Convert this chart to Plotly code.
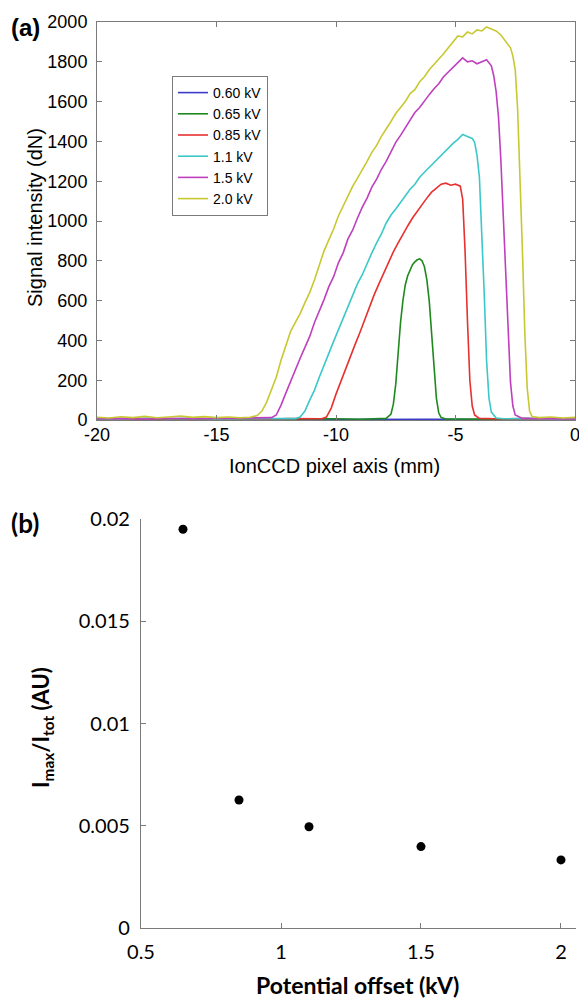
import plotly.graph_objects as go

# ---------------- Panel (a) data: signal vs IonCCD pixel axis ----------------
series_names = ["0.60 kV", "0.65 kV", "0.85 kV", "1.1 kV", "1.5 kV", "2.0 kV"]
series_colors = ["#3c3cc8", "#1e8a1e", "#e6312f", "#3cc8c8", "#bf3fbf", "#c8c832"]

curve_060 = [(-20, 2), (-18, 3), (-16, 2), (-14, 3), (-12, 2), (-10, 3), (-8, 2),
             (-6, 3), (-4, 2), (-2, 3), (0, 2)]

curve_065 = [(-20, 4), (-18, 6), (-16, 3), (-14, 5), (-12, 4), (-10, 6), (-9, 4), (-8.2, 5),
             (-7.9, 8), (-7.7, 30), (-7.6, 80), (-7.5, 180), (-7.4, 340), (-7.3, 490),
             (-7.2, 600), (-7.1, 680), (-7.0, 725), (-6.9, 755), (-6.8, 780), (-6.7, 795),
             (-6.6, 805), (-6.5, 810), (-6.4, 800), (-6.3, 770), (-6.2, 705), (-6.1, 600),
             (-6.0, 450), (-5.9, 260), (-5.8, 110), (-5.7, 35), (-5.6, 12), (-5.4, 5),
             (-4, 4), (-2, 6), (0, 4)]

curve_085 = [(-20, 6), (-19, 4), (-18, 7), (-17, 5), (-16, 8), (-15, 5), (-14, 6), (-13, 4),
             (-12, 7), (-11, 5), (-10.6, 6), (-10.4, 15), (-10.2, 60), (-10.0, 130),
             (-9.8, 195), (-9.6, 255), (-9.4, 320), (-9.2, 380), (-9.0, 440), (-8.8, 505),
             (-8.6, 570), (-8.4, 630), (-8.2, 685), (-8.0, 740), (-7.8, 795), (-7.6, 845),
             (-7.4, 890), (-7.2, 935), (-7.0, 975), (-6.8, 1015), (-6.6, 1050), (-6.4, 1085),
             (-6.2, 1115), (-6.0, 1145), (-5.8, 1165), (-5.6, 1185), (-5.4, 1190), (-5.2, 1180),
             (-5.0, 1185), (-4.8, 1175), (-4.7, 1110), (-4.6, 850), (-4.5, 500), (-4.4, 200),
             (-4.3, 70), (-4.2, 25), (-4.0, 8), (-3, 5), (-2, 7), (-1, 4), (0, 6)]

curve_110 = [(-20, 7), (-19, 5), (-18, 9), (-17, 6), (-16, 8), (-15, 5), (-14, 7), (-13, 6),
             (-12, 8), (-11.7, 7), (-11.5, 15), (-11.3, 45), (-11.1, 100), (-10.9, 150),
             (-10.7, 215), (-10.5, 280), (-10.3, 335), (-10.1, 395), (-9.9, 455), (-9.7, 510),
             (-9.5, 570), (-9.3, 625), (-9.1, 685), (-8.9, 730), (-8.7, 790), (-8.5, 840),
             (-8.3, 890), (-8.1, 935), (-7.9, 990), (-7.7, 1030), (-7.5, 1060), (-7.3, 1095),
             (-7.1, 1130), (-6.9, 1160), (-6.7, 1185), (-6.5, 1220), (-6.3, 1245), (-6.1, 1270),
             (-5.9, 1290), (-5.7, 1320), (-5.5, 1340), (-5.3, 1370), (-5.1, 1390), (-4.9, 1410),
             (-4.7, 1435), (-4.5, 1425), (-4.3, 1415), (-4.2, 1395), (-4.1, 1330), (-4.0, 1220),
             (-3.9, 950), (-3.8, 640), (-3.7, 300), (-3.6, 110), (-3.5, 40), (-3.3, 10),
             (-3, 6), (-2, 8), (-1, 5), (0, 7)]

curve_150 = [(-20, 6), (-19, 8), (-18, 5), (-17, 9), (-16, 6), (-15, 8), (-14, 7), (-13, 9),
             (-12.7, 12), (-12.5, 25), (-12.3, 75), (-12.1, 135), (-11.9, 195), (-11.7, 260),
             (-11.5, 310), (-11.3, 365), (-11.1, 420), (-10.9, 490), (-10.7, 545), (-10.5, 605),
             (-10.3, 670), (-10.1, 720), (-9.9, 790), (-9.7, 840), (-9.5, 910), (-9.3, 955),
             (-9.1, 1015), (-8.9, 1070), (-8.7, 1115), (-8.5, 1170), (-8.3, 1210), (-8.1, 1260),
             (-7.9, 1300), (-7.7, 1350), (-7.5, 1395), (-7.3, 1430), (-7.1, 1470), (-6.9, 1505),
             (-6.7, 1545), (-6.5, 1570), (-6.3, 1605), (-6.1, 1635), (-5.9, 1665), (-5.7, 1690),
             (-5.5, 1725), (-5.3, 1750), (-5.1, 1775), (-4.9, 1800), (-4.7, 1820), (-4.5, 1800),
             (-4.3, 1805), (-4.1, 1790), (-3.9, 1800), (-3.7, 1810), (-3.5, 1780), (-3.4, 1730),
             (-3.3, 1650), (-3.2, 1520), (-3.1, 1300), (-3.0, 1000), (-2.9, 700), (-2.8, 420),
             (-2.7, 190), (-2.6, 70), (-2.5, 25), (-2.2, 8), (-1.5, 6), (-1, 7), (0, 5)]

curve_200 = [(-20, 14), (-19.5, 10), (-19, 16), (-18.5, 12), (-18, 18), (-17.5, 11), (-17, 15),
             (-16.5, 20), (-16, 13), (-15.5, 17), (-15, 12), (-14.5, 15), (-14, 11), (-13.6, 14),
             (-13.3, 22), (-13.1, 45), (-12.9, 90), (-12.7, 150), (-12.5, 215), (-12.3, 300),
             (-12.1, 370), (-11.9, 445), (-11.7, 490), (-11.5, 535), (-11.3, 590), (-11.1, 640),
             (-10.9, 705), (-10.7, 775), (-10.5, 850), (-10.3, 905), (-10.1, 960), (-9.9, 1025),
             (-9.7, 1075), (-9.5, 1120), (-9.3, 1175), (-9.1, 1215), (-8.9, 1255), (-8.7, 1300),
             (-8.5, 1345), (-8.3, 1380), (-8.1, 1425), (-7.9, 1460), (-7.7, 1500), (-7.5, 1540),
             (-7.3, 1570), (-7.1, 1600), (-6.9, 1640), (-6.7, 1660), (-6.5, 1700), (-6.3, 1725),
             (-6.1, 1760), (-5.9, 1785), (-5.7, 1810), (-5.5, 1840), (-5.3, 1870), (-5.1, 1900),
             (-4.9, 1930), (-4.7, 1925), (-4.5, 1950), (-4.3, 1940), (-4.1, 1960), (-3.9, 1955),
             (-3.7, 1975), (-3.5, 1965), (-3.3, 1955), (-3.1, 1935), (-2.9, 1905), (-2.7, 1870),
             (-2.6, 1830), (-2.5, 1760), (-2.4, 1560), (-2.3, 1250), (-2.2, 850), (-2.1, 440),
             (-2.0, 160), (-1.9, 45), (-1.8, 18), (-1.5, 12), (-1.0, 15), (-0.5, 10), (0, 13)]

curves = [curve_060, curve_065, curve_085, curve_110, curve_150, curve_200]

x_ticks_a = [-20, -15, -10, -5, 0]
x_ticklabels_a = ["-20", "-15", "-10", "-5", "0"]

# ---------------- Panel (b) data: Imax/Itot vs potential offset ----------------
offset_kv = [0.65, 0.85, 1.1, 1.5, 2.0]
imax_itot = [0.0195, 0.00626, 0.00495, 0.00398, 0.00333]
x_ticks_b = [0.5, 1, 1.5, 2]
y_ticks_b = [0, 0.005, 0.01, 0.015, 0.02]
y_ticklabels_b = ["0", "0.005", "0.01", "0.015", "0.02"]

W, H = 579, 1000
fig = go.Figure()

for name, color, pts in zip(series_names, series_colors, curves):
    fig.add_trace(go.Scatter(
        x=[p[0] for p in pts], y=[p[1] for p in pts], mode="lines", name=name,
        line=dict(color=color, width=1.6), xaxis="x", yaxis="y"))

fig.add_trace(go.Scatter(
    x=offset_kv, y=imax_itot, mode="markers", showlegend=False,
    marker=dict(color="black", size=9), xaxis="x2", yaxis="y2", cliponaxis=False))

axis_gray = "#7a7a7a"
arial = "Arial, Liberation Sans, sans-serif"
calib = "Lato, Open Sans, sans-serif"

common = dict(ticks="inside", ticklen=5, tickcolor=axis_gray, showline=True,
              linecolor=axis_gray, showgrid=False, zeroline=False,
              automargin=False, ticklabeloverflow="allow")

fig.update_layout(
    template="none",
    width=W, height=H, margin=dict(l=0, r=0, t=0, b=0, pad=0, autoexpand=False),
    paper_bgcolor="white", plot_bgcolor="white",
    showlegend=True,
    legend=dict(x=172 / W, y=1 - 76 / H, xanchor="left", yanchor="top",
                bordercolor=axis_gray, borderwidth=1, bgcolor="white",
                font=dict(family=arial, size=14, color="black"),
                tracegroupgap=0, itemwidth=30),
    xaxis=dict(domain=[97 / W, 575 / W], range=[-20, 0], tickvals=x_ticks_a,
               ticktext=x_ticklabels_a, linewidth=1, mirror="allticks",
               anchor="y", ticklabelstandoff=-2,
               tickfont=dict(family=arial, size=18, color="black"), **common),
    yaxis=dict(domain=[1 - 420 / H, 1 - 22 / H], range=[0, 2000], dtick=200,
               linewidth=1, mirror="allticks", anchor="x", ticklabelstandoff=5,
               tickfont=dict(family=arial, size=18, color="black"), **common),
    xaxis2=dict(domain=[141 / W, 576 / W], range=[0.5, 2.0536], tickvals=x_ticks_b,
                linewidth=1.3, anchor="y2", ticklabelstandoff=6,
                tickfont=dict(family=calib, size=20, color="black"), **common),
    yaxis2=dict(domain=[1 - 928 / H, 1 - 519 / H], range=[0, 0.02], tickvals=y_ticks_b,
                ticktext=y_ticklabels_b, linewidth=1.3, anchor="x2", ticklabelstandoff=6,
                tickfont=dict(family=calib, size=20, color="black"), **common),
)

annots = [
    dict(text="<b>(a)</b>", x=9 / W, y=1 - 27 / H, xanchor="left", yanchor="middle",
         font=dict(family=arial, size=24, color="black")),
    dict(text="<b>(b)</b>", x=9 / W, y=1 - 523 / H, xanchor="left", yanchor="middle",
         font=dict(family=calib, size=26, color="black")),
    dict(text="IonCCD pixel axis (mm)", x=334 / W, y=1 - 466 / H, xanchor="center",
         yanchor="middle", font=dict(family=arial, size=20, color="black")),
    dict(text="Signal intensity (dN)", x=35 / W, y=1 - 218 / H, xanchor="center",
         yanchor="middle", textangle=-90, font=dict(family=arial, size=20, color="black")),
    dict(text="<b>Potential offset (kV)</b>", x=357 / W, y=0.0, xanchor="center",
         yanchor="bottom", borderpad=0, font=dict(family=calib, size=23, color="black")),
    dict(text="<b>I<sub>max</sub>/I<sub>tot</sub> (AU)</b>", x=42 / W, y=1 - 728 / H,
         xanchor="center", yanchor="middle", textangle=-90,
         font=dict(family=calib, size=22, color="black")),
]
for a in annots:
    a.update(xref="paper", yref="paper", showarrow=False)
fig.update_layout(annotations=annots)

fig.write_html("out.html")
